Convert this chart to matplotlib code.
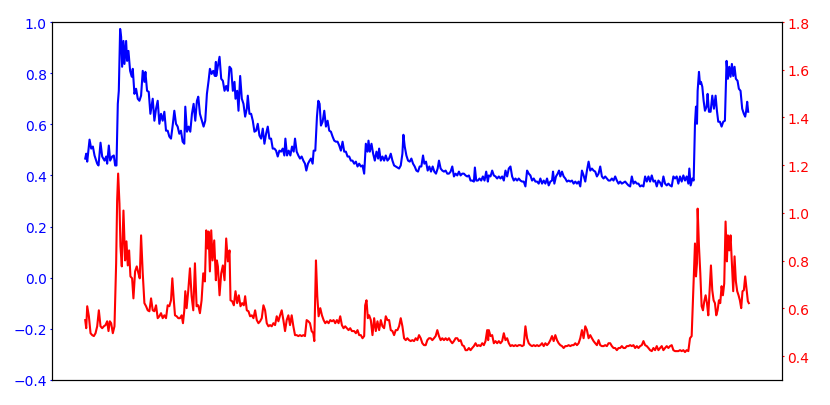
import matplotlib
matplotlib.use("Agg")
import matplotlib.pyplot as plt

# blue series (left axis), sample index and value
t_blue = [1, 4, 7, 14, 19, 24, 29, 37, 41, 47, 52, 59, 64, 67, 72, 76, 82, 87, 91, 95,
          99, 102, 106, 109, 112, 116, 119, 124, 127, 131, 136, 141, 144, 149, 154, 159, 164, 169, 174, 179,
          182, 187, 192, 197, 204, 209, 214, 219, 224, 229, 234, 239, 244, 249, 254, 259, 264, 269, 274, 279,
          284, 289, 294, 299, 302, 307, 312, 317, 322, 327, 332, 337, 341, 346, 352, 357, 362, 367, 372, 376,
          381, 386, 391, 394, 395, 400, 405, 410, 415, 420, 425, 430, 435, 440, 445, 450, 453, 458, 462, 467,
          472, 477, 482, 487, 490, 495, 500, 505, 510, 515, 520, 525, 530, 535, 540, 545, 550, 555, 560, 565,
          570, 575, 580, 585, 590, 595, 600, 603, 608, 613, 618, 623, 628, 632, 637, 642, 647, 652, 657, 662,
          666, 671, 676, 680, 685, 688, 693, 698, 702, 706, 710, 715, 720, 725, 730, 735, 740, 745, 750, 755,
          760, 765, 770, 775, 780, 785, 790, 795, 800, 805, 810, 815, 820, 825, 830, 835, 840, 845, 850, 853,
          857, 862, 867, 872, 877, 882, 885, 890, 895, 900, 905, 910, 915, 920, 925, 930, 935, 940, 945, 950,
          955, 958, 962, 967, 972, 977, 982, 987, 992, 997, 1002, 1007, 1012, 1017, 1021, 1026, 1031, 1036, 1041, 1046,
          1051, 1056, 1061, 1065, 1070, 1075, 1080, 1085, 1090, 1095, 1100, 1105, 1110, 1115, 1120, 1125, 1130, 1135, 1140, 1145,
          1150, 1155, 1160, 1165, 1170, 1173, 1177, 1182, 1187, 1192, 1197, 1202, 1207, 1212, 1215, 1220, 1225, 1230, 1235, 1240,
          1245, 1250, 1255, 1260, 1265, 1270, 1275, 1280, 1285, 1290, 1295, 1300, 1305, 1310, 1315, 1320, 1325, 1330, 1335, 1340,
          1345, 1350, 1355, 1360, 1365, 1370, 1375, 1380, 1385, 1390, 1395, 1400, 1405, 1408, 1412, 1417, 1422, 1426, 1430, 1435,
          1440, 1445, 1450, 1455, 1460, 1465, 1470, 1475, 1480, 1485, 1490, 1495, 1500, 1505, 1510, 1515, 1520, 1525, 1530, 1535,
          1540, 1545, 1550, 1555, 1560, 1565, 1570, 1575, 1580, 1585, 1590, 1595, 1600, 1605, 1610, 1615, 1620, 1625, 1630, 1635,
          1640, 1645, 1650, 1655, 1660, 1665, 1670, 1675, 1680, 1685, 1690, 1695, 1700, 1705, 1710, 1715, 1720, 1725, 1730, 1735,
          1740, 1745, 1750, 1755, 1760, 1765, 1770, 1775, 1780, 1785, 1790, 1795, 1800, 1805, 1810, 1815, 1818, 1822, 1827, 1831,
          1835, 1838, 1841, 1843, 1847, 1850, 1853, 1857, 1861, 1865, 1870, 1873, 1877, 1882, 1887, 1892, 1897, 1901, 1905, 1910,
          1915, 1920, 1925, 1930, 1934, 1938, 1942, 1946, 1950, 1954, 1958, 1963, 1967, 1972, 1977, 1982, 1986, 1989, 1992, 1995]
blue = [0.466, 0.485, 0.454, 0.540, 0.505, 0.513, 0.478, 0.446, 0.439, 0.528, 0.474, 0.458, 0.474, 0.446, 0.517, 0.458, 0.474, 0.478, 0.439, 0.439,
        0.680, 0.731, 0.973, 0.942, 0.825, 0.926, 0.836, 0.926, 0.848, 0.887, 0.809, 0.786, 0.817, 0.719, 0.739, 0.700, 0.692, 0.712, 0.809, 0.766,
        0.805, 0.731, 0.727, 0.641, 0.700, 0.614, 0.661, 0.692, 0.602, 0.641, 0.614, 0.649, 0.575, 0.575, 0.552, 0.544, 0.595, 0.653, 0.602, 0.591,
        0.563, 0.575, 0.532, 0.524, 0.669, 0.571, 0.591, 0.571, 0.641, 0.680, 0.614, 0.692, 0.708, 0.641, 0.614, 0.591, 0.614, 0.719, 0.770, 0.817,
        0.797, 0.809, 0.789, 0.844, 0.789, 0.828, 0.864, 0.778, 0.770, 0.731, 0.750, 0.731, 0.825, 0.817, 0.731, 0.766, 0.700, 0.731, 0.653, 0.789,
        0.700, 0.680, 0.630, 0.661, 0.712, 0.641, 0.641, 0.614, 0.571, 0.575, 0.602, 0.556, 0.544, 0.583, 0.524, 0.563, 0.591, 0.544, 0.544, 0.505,
        0.505, 0.497, 0.474, 0.497, 0.493, 0.505, 0.478, 0.544, 0.478, 0.497, 0.478, 0.513, 0.493, 0.544, 0.493, 0.478, 0.466, 0.474, 0.458, 0.446,
        0.419, 0.446, 0.458, 0.466, 0.446, 0.497, 0.497, 0.630, 0.692, 0.680, 0.595, 0.610, 0.653, 0.591, 0.614, 0.575, 0.571, 0.552, 0.536, 0.532,
        0.532, 0.517, 0.497, 0.532, 0.493, 0.493, 0.474, 0.474, 0.458, 0.458, 0.446, 0.454, 0.435, 0.446, 0.435, 0.439, 0.407, 0.524, 0.493, 0.536,
        0.493, 0.524, 0.485, 0.458, 0.493, 0.466, 0.505, 0.458, 0.474, 0.458, 0.478, 0.458, 0.466, 0.485, 0.458, 0.439, 0.435, 0.431, 0.427, 0.439,
        0.485, 0.559, 0.513, 0.478, 0.458, 0.454, 0.466, 0.446, 0.435, 0.419, 0.415, 0.435, 0.435, 0.478, 0.446, 0.454, 0.419, 0.435, 0.415, 0.435,
        0.415, 0.407, 0.427, 0.458, 0.427, 0.419, 0.415, 0.419, 0.407, 0.407, 0.415, 0.435, 0.396, 0.407, 0.400, 0.415, 0.400, 0.407, 0.407, 0.400,
        0.396, 0.400, 0.380, 0.380, 0.376, 0.431, 0.380, 0.380, 0.388, 0.380, 0.396, 0.380, 0.415, 0.376, 0.400, 0.396, 0.419, 0.400, 0.396, 0.388,
        0.396, 0.388, 0.396, 0.380, 0.419, 0.396, 0.427, 0.435, 0.396, 0.380, 0.388, 0.380, 0.388, 0.380, 0.376, 0.376, 0.357, 0.419, 0.407, 0.400,
        0.380, 0.388, 0.376, 0.376, 0.368, 0.388, 0.368, 0.380, 0.368, 0.388, 0.361, 0.376, 0.380, 0.415, 0.368, 0.396, 0.407, 0.419, 0.396, 0.415,
        0.396, 0.388, 0.376, 0.380, 0.376, 0.380, 0.368, 0.376, 0.368, 0.376, 0.357, 0.419, 0.400, 0.376, 0.419, 0.454, 0.419, 0.427, 0.419, 0.415,
        0.396, 0.407, 0.435, 0.396, 0.388, 0.396, 0.388, 0.380, 0.380, 0.388, 0.380, 0.396, 0.380, 0.368, 0.376, 0.368, 0.372, 0.376, 0.368, 0.361,
        0.357, 0.396, 0.368, 0.376, 0.368, 0.368, 0.357, 0.361, 0.357, 0.396, 0.376, 0.396, 0.376, 0.400, 0.376, 0.380, 0.357, 0.380, 0.372, 0.357,
        0.396, 0.368, 0.361, 0.368, 0.361, 0.357, 0.396, 0.388, 0.396, 0.368, 0.396, 0.376, 0.400, 0.380, 0.396, 0.368, 0.427, 0.361, 0.388, 0.380,
        0.602, 0.669, 0.602, 0.731, 0.805, 0.758, 0.766, 0.747, 0.692, 0.653, 0.669, 0.719, 0.649, 0.649, 0.712, 0.661, 0.712, 0.653, 0.610, 0.610,
        0.591, 0.610, 0.614, 0.848, 0.778, 0.825, 0.786, 0.836, 0.789, 0.825, 0.778, 0.770, 0.739, 0.731, 0.661, 0.641, 0.630, 0.653, 0.688, 0.649]

# red series (right axis)
t_red = [1, 4, 7, 12, 17, 22, 27, 32, 37, 42, 47, 52, 57, 62, 67, 71, 75, 79, 84, 89,
         94, 97, 100, 104, 107, 111, 116, 121, 125, 129, 133, 137, 142, 146, 151, 156, 161, 165, 169, 174,
         179, 184, 189, 194, 199, 204, 209, 214, 219, 224, 229, 234, 239, 244, 249, 254, 259, 263, 267, 271,
         276, 281, 286, 291, 295, 299, 302, 306, 311, 316, 321, 326, 331, 336, 341, 346, 351, 356, 361, 365,
         369, 372, 376, 380, 384, 389, 394, 397, 400, 405, 410, 415, 420, 425, 430, 435, 438, 443, 448, 453,
         458, 463, 468, 473, 478, 482, 487, 492, 497, 502, 507, 512, 517, 522, 527, 532, 537, 542, 547, 552,
         557, 562, 567, 572, 577, 582, 587, 592, 597, 602, 607, 612, 617, 622, 627, 632, 637, 642, 647, 652,
         657, 662, 667, 672, 677, 682, 687, 690, 695, 699, 703, 708, 713, 718, 723, 728, 733, 738, 743, 748,
         753, 758, 763, 768, 773, 778, 783, 788, 793, 798, 803, 808, 810, 815, 820, 825, 830, 835, 840, 843,
         847, 851, 855, 860, 865, 870, 875, 880, 885, 890, 895, 900, 905, 910, 915, 920, 925, 930, 935, 940,
         945, 950, 955, 960, 965, 970, 975, 980, 985, 990, 995, 1000, 1005, 1010, 1015, 1020, 1025, 1030, 1035, 1040,
         1045, 1050, 1055, 1060, 1065, 1070, 1075, 1080, 1085, 1090, 1095, 1100, 1105, 1110, 1115, 1120, 1125, 1130, 1135, 1140,
         1145, 1150, 1155, 1160, 1165, 1170, 1175, 1180, 1185, 1190, 1195, 1200, 1205, 1210, 1213, 1215, 1220, 1225, 1230, 1235,
         1240, 1245, 1250, 1255, 1260, 1265, 1270, 1275, 1280, 1285, 1290, 1295, 1300, 1305, 1310, 1315, 1320, 1325, 1330, 1335,
         1340, 1345, 1350, 1355, 1360, 1365, 1370, 1375, 1380, 1385, 1390, 1395, 1400, 1405, 1410, 1415, 1420, 1425, 1430, 1435,
         1440, 1445, 1450, 1455, 1460, 1465, 1470, 1475, 1480, 1485, 1490, 1495, 1500, 1505, 1510, 1515, 1520, 1525, 1530, 1535,
         1540, 1545, 1550, 1555, 1560, 1565, 1570, 1575, 1580, 1585, 1590, 1595, 1600, 1605, 1610, 1615, 1620, 1625, 1630, 1635,
         1640, 1645, 1650, 1655, 1660, 1665, 1670, 1675, 1680, 1685, 1690, 1695, 1700, 1705, 1710, 1715, 1720, 1725, 1730, 1735,
         1740, 1745, 1750, 1755, 1760, 1765, 1770, 1775, 1780, 1785, 1790, 1795, 1800, 1805, 1810, 1815, 1820, 1825, 1830, 1835,
         1838, 1841, 1843, 1847, 1851, 1855, 1859, 1863, 1867, 1871, 1875, 1879, 1883, 1887, 1891, 1895, 1899, 1903, 1907, 1911,
         1915, 1919, 1923, 1927, 1931, 1934, 1938, 1942, 1946, 1950, 1954, 1958, 1962, 1966, 1970, 1974, 1978, 1982, 1986, 1990,
         1994, 1997]
red = [0.551, 0.517, 0.609, 0.567, 0.496, 0.488, 0.484, 0.496, 0.525, 0.592, 0.525, 0.517, 0.525, 0.530, 0.546, 0.505, 0.546, 0.538, 0.496, 0.525,
       0.789, 1.052, 1.165, 1.039, 0.860, 0.776, 1.010, 0.801, 0.881, 0.780, 0.843, 0.734, 0.726, 0.642, 0.755, 0.776, 0.747, 0.726, 0.906, 0.747,
       0.622, 0.609, 0.592, 0.588, 0.642, 0.592, 0.588, 0.613, 0.559, 0.567, 0.580, 0.559, 0.571, 0.559, 0.613, 0.609, 0.634, 0.726, 0.642, 0.571,
       0.567, 0.559, 0.559, 0.571, 0.538, 0.592, 0.672, 0.601, 0.676, 0.768, 0.651, 0.592, 0.789, 0.609, 0.613, 0.580, 0.634, 0.747, 0.713, 0.927,
       0.851, 0.922, 0.755, 0.927, 0.801, 0.885, 0.718, 0.801, 0.776, 0.655, 0.747, 0.780, 0.718, 0.893, 0.797, 0.843, 0.634, 0.630, 0.613, 0.672,
       0.622, 0.655, 0.609, 0.622, 0.613, 0.651, 0.592, 0.588, 0.567, 0.571, 0.559, 0.592, 0.551, 0.538, 0.546, 0.559, 0.613, 0.592, 0.538, 0.525,
       0.530, 0.525, 0.538, 0.530, 0.567, 0.546, 0.571, 0.592, 0.551, 0.505, 0.551, 0.571, 0.530, 0.571, 0.525, 0.488, 0.488, 0.484, 0.488, 0.484,
       0.488, 0.484, 0.551, 0.546, 0.538, 0.505, 0.496, 0.463, 0.801, 0.651, 0.567, 0.601, 0.571, 0.551, 0.538, 0.546, 0.538, 0.551, 0.546, 0.551,
       0.538, 0.551, 0.538, 0.567, 0.530, 0.517, 0.525, 0.517, 0.509, 0.517, 0.505, 0.505, 0.505, 0.496, 0.509, 0.488, 0.488, 0.475, 0.484, 0.613,
       0.634, 0.559, 0.571, 0.551, 0.488, 0.559, 0.505, 0.546, 0.509, 0.551, 0.525, 0.517, 0.567, 0.551, 0.551, 0.509, 0.505, 0.488, 0.509, 0.509,
       0.525, 0.559, 0.525, 0.475, 0.467, 0.475, 0.467, 0.463, 0.467, 0.463, 0.475, 0.467, 0.488, 0.475, 0.454, 0.446, 0.446, 0.467, 0.475, 0.475,
       0.467, 0.475, 0.484, 0.509, 0.484, 0.467, 0.475, 0.467, 0.475, 0.467, 0.475, 0.463, 0.454, 0.463, 0.475, 0.475, 0.463, 0.467, 0.446, 0.442,
       0.425, 0.425, 0.434, 0.425, 0.434, 0.442, 0.454, 0.442, 0.446, 0.442, 0.454, 0.446, 0.463, 0.509, 0.467, 0.509, 0.484, 0.488, 0.454, 0.463,
       0.454, 0.463, 0.454, 0.463, 0.496, 0.467, 0.475, 0.454, 0.442, 0.446, 0.442, 0.446, 0.442, 0.446, 0.446, 0.442, 0.446, 0.525, 0.475, 0.454,
       0.446, 0.442, 0.446, 0.442, 0.446, 0.442, 0.446, 0.454, 0.442, 0.454, 0.446, 0.454, 0.467, 0.484, 0.463, 0.488, 0.467, 0.454, 0.446, 0.442,
       0.434, 0.442, 0.442, 0.446, 0.442, 0.446, 0.446, 0.454, 0.446, 0.454, 0.475, 0.509, 0.475, 0.525, 0.509, 0.475, 0.488, 0.475, 0.463, 0.454,
       0.446, 0.467, 0.446, 0.442, 0.442, 0.446, 0.442, 0.454, 0.454, 0.442, 0.434, 0.434, 0.425, 0.434, 0.434, 0.442, 0.434, 0.434, 0.442, 0.442,
       0.446, 0.442, 0.446, 0.434, 0.442, 0.434, 0.442, 0.446, 0.463, 0.446, 0.442, 0.434, 0.425, 0.421, 0.434, 0.425, 0.442, 0.425, 0.434, 0.442,
       0.425, 0.434, 0.442, 0.434, 0.442, 0.446, 0.425, 0.421, 0.421, 0.421, 0.425, 0.421, 0.425, 0.417, 0.425, 0.421, 0.475, 0.484, 0.676, 0.872,
       0.734, 0.789, 1.018, 0.860, 0.747, 0.609, 0.592, 0.630, 0.655, 0.622, 0.571, 0.672, 0.780, 0.676, 0.634, 0.622, 0.571, 0.592, 0.634, 0.622,
       0.693, 0.655, 0.705, 0.964, 0.797, 0.906, 0.843, 0.906, 0.789, 0.672, 0.818, 0.713, 0.672, 0.655, 0.634, 0.601, 0.672, 0.676, 0.734, 0.684,
       0.630, 0.622]

fig = plt.figure(figsize=(8.3, 4.06), dpi=100)
ax = fig.add_axes([0.0627, 0.0616, 0.8795, 0.8817])
ax.plot(t_blue, blue, color='blue', linewidth=1.5)
ax.set_ylim(-0.4, 1.0)
ax.tick_params(axis='y', colors='blue', labelsize=10, length=1.5, pad=2.2)
ax.set_xticks([])

ax2 = ax.twinx()
ax2.plot(t_red, red, color='red', linewidth=1.5)
ax2.set_ylim(0.3, 1.8)
ax2.tick_params(axis='y', colors='red', labelsize=10, length=1.5, pad=2.2)

fig.savefig('out.png', dpi=100)
